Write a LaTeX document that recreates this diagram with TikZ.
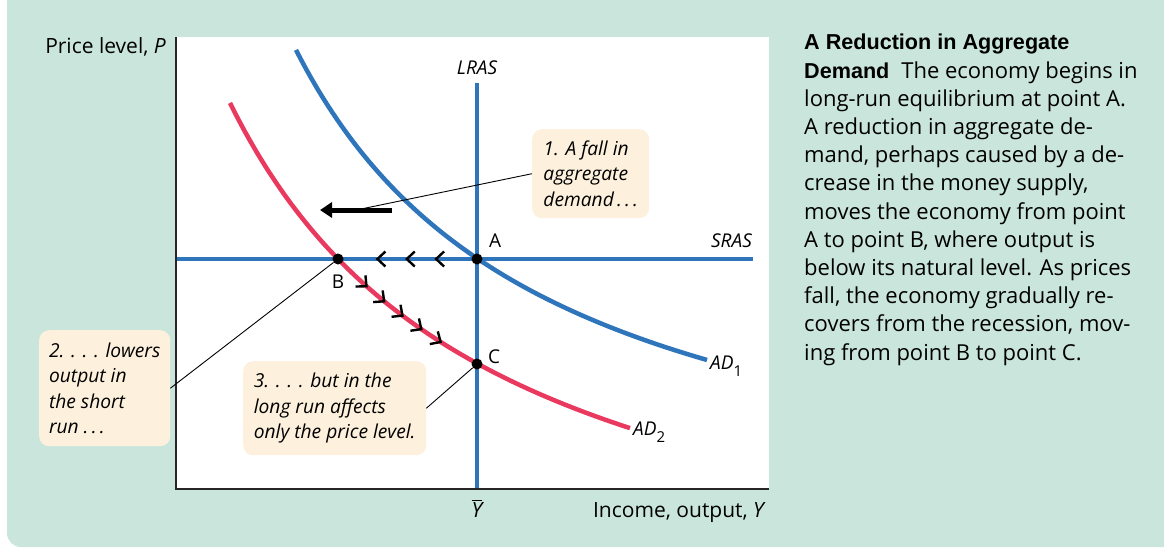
\documentclass[tikz,border=0pt]{standalone}
\usepackage{fontspec}
\setmainfont{Open Sans}
\newfontfamily\headfont{Liberation Sans}
\usetikzlibrary{arrows.meta,decorations.markings}
\definecolor{panelgreen}{RGB}{202,230,220}
\definecolor{notecream}{RGB}{253,241,221}
\definecolor{asblue}{RGB}{46,117,188}
\definecolor{adred}{RGB}{234,57,94}
\newcommand{\capbold}[1]{{\headfont\bfseries\fontsize{21.6}{28.2}\selectfont #1}}
\newcommand{\lowsub}[1]{\raisebox{-7pt}{\upshape\fontsize{15}{15}\selectfont #1}}
\tikzset{
  bluecurve/.style={draw=asblue, line width=4.5pt},
  redcurve/.style={draw=adred, line width=4.5pt},
  axisline/.style={draw=black!85, line width=1.4pt},
  eqdot/.style={circle, fill=black, inner sep=0pt, minimum size=11pt},
  ptlbl/.style={font=\fontsize{19}{22}\selectfont, inner sep=0pt},
  curvelbl/.style={font=\fontsize{19}{22}\selectfont\itshape, inner sep=0pt},
  axislbl/.style={font=\fontsize{21}{25}\selectfont, inner sep=0pt},
  note/.style={fill=notecream, rounded corners=10pt, anchor=north west, align=left,
    inner sep=0pt, font=\fontsize{19.2}{25.5}\selectfont\itshape},
  leader/.style={draw=black, line width=0.9pt},
  shiftarrow/.style={draw=black, line width=5pt, -{Triangle[length=12pt,width=15pt]}},
  chevrons/.style n args={3}{decorate, decoration={markings,
      mark=between positions #1 and #2 step #3 with
      {\arrow{Straight Barb[length=8pt,width=15pt,line width=2.4pt]}}}}
}

\begin{document}
\begin{tikzpicture}[x=1pt, y=-1pt]
  \useasboundingbox (0,0) rectangle (1164,547);
  % panel and plot area
  \fill[panelgreen] (7,0) -- (1164,0) -- (1164,547) -- (21,547)
    arc[start angle=90, end angle=180, radius=14] -- cycle;
  \fill[white] (176,37) rectangle (769,489);

  % supply lines
  \draw[bluecurve] (477,83) -- (477,489);
  \draw[bluecurve] (176,259) -- (753,259);

  % demand curves
  \draw[bluecurve] plot[domain=296:707, samples=80] (\x, {553.2-128.923/((\x-39.8)/1000)});
  \draw[redcurve] plot[domain=230:630, samples=80] (\x, {645.8-145.368/((\x+37.8)/1000)});

  % axes
  \draw[axisline] (176,37) -- (176,489) -- (769,489);

  % equilibrium points
  \node[eqdot] (A) at (477,259) {};
  \node[eqdot] (B) at (338,259) {};
  \node[eqdot] (C) at (477,364) {};

  % adjustment chevrons
  \path[chevrons={0.307}{0.73}{0.211}] (A.center) -- (B.center);
  \path[chevrons={0.236}{0.77}{0.133}] plot[domain=338:477, samples=40]
    (\x, {645.8-145.368/((\x+37.8)/1000)});

  % shift of demand
  \coordinate (shiftR) at (392,210);
  \coordinate (shiftL) at (320,210);
  \coordinate (shiftM) at (361,209);
  \draw[shiftarrow] (shiftR) -- (shiftL);

  % labels
  \node[ptlbl, anchor=base west] at (489,247) {A};
  \node[ptlbl, anchor=base] at (338,288) {B};
  \node[ptlbl, anchor=base west] at (488,363) {C};
  \node[curvelbl, anchor=base] at (477,74) {LRAS};
  \node[curvelbl, anchor=base east] at (752,247) {SRAS};
  \node[curvelbl, anchor=base west] at (710,369) {AD\lowsub{1}};
  \node[curvelbl, anchor=base west] at (633,435) {AD\lowsub{2}};
  \node[axislbl, anchor=base east] at (166,53) {Price level, \textit{P}};
  \node[axislbl, anchor=base east] at (766,517) {Income, output, \textit{Y}};
  \node[axislbl, anchor=base] at (477,517) {\ensuremath{\overline{\mbox{\itshape Y}}}};

  % callouts
  \node[note, minimum width=117pt, minimum height=89pt] (fall) at (532,129)
    {1. A fall in\\ aggregate\\ demand\,.\,.\,.};
  \node[note, minimum width=131pt, minimum height=116pt] (lowers) at (39,330)
    {2. . . . lowers\\ output in\\ the short\\ run .\,.\,.};
  \node[note, minimum width=183pt, minimum height=94pt] (longrun) at (243,361)
    {3. . . . but in the\\ long run affects\\ only the price level.};
  \draw[leader] (fall.west) -- (shiftM);
  \draw[leader] (lowers.east) -- (B);
  \draw[leader] (longrun.east) -- (C);

  % caption
  \node[anchor=north west, align=left, inner sep=0pt,
    font=\fontsize{22}{28.2}\selectfont] (caption) at (804,34)
    {\capbold{A Reduction in Aggregate}\\
     \capbold{Demand}\hspace{12pt}The economy begins in\\
     long-run equilibrium at point A.\\
     A reduction in aggregate de-\\
     mand, perhaps caused by a de-\\
     crease in the money supply,\\
     moves the economy from point\\
     A to point B, where output is\\
     below its natural level. As prices\\
     fall, the economy gradually re-\\
     covers from the recession, mov-\\
     ing from point B to point C.};
\end{tikzpicture}
\end{document}
